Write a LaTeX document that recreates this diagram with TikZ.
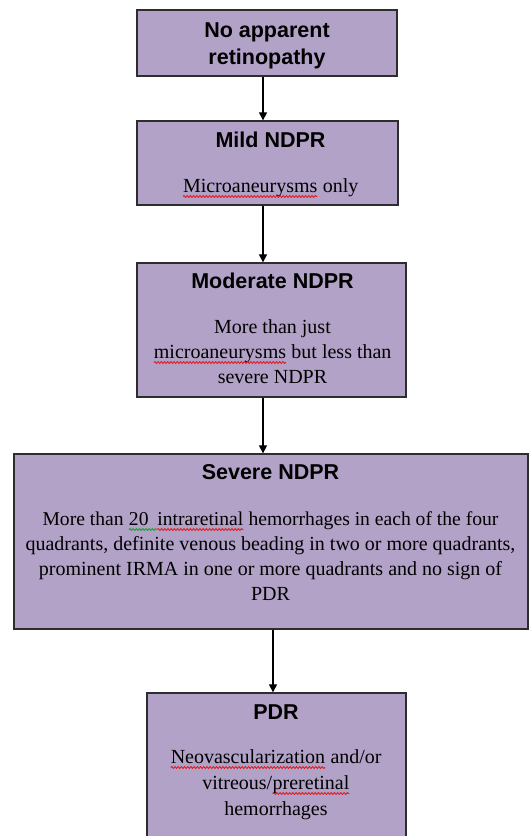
\documentclass[tikz,border=0pt]{standalone}
\usepackage{fontspec}
\setmainfont{Liberation Serif}
\newfontfamily\headfont{Liberation Sans}
\usetikzlibrary{arrows.meta,decorations.pathmorphing}

\definecolor{boxfill}{RGB}{178,162,199}
\definecolor{boxline}{RGB}{45,45,45}
\definecolor{spellred}{RGB}{230,20,20}
\definecolor{spellgreen}{RGB}{20,160,40}

% word with a wavy proofing underline
\newcommand\wavy[2]{\tikz[baseline=(w.base)]{%
  \node[inner sep=0pt,outer sep=0pt] (w) {#2};
  \draw[#1,line width=0.8pt,decorate,decoration={snake,amplitude=1pt,segment length=3.2pt}]
    ([yshift=-4.5pt]w.base west) -- ([yshift=-4.5pt]w.base east);}}

\tikzset{
  box/.style={draw=boxline,fill=boxfill,line width=1.3pt,rectangle,inner sep=0pt},
  head/.style={anchor=base,inner sep=0pt,font=\headfont\bfseries\fontsize{21.5}{25}\selectfont},
  body/.style={anchor=base,inner sep=0pt,font=\fontsize{20}{25}\selectfont},
  arr/.style={draw=black,line width=1.1pt,-{Triangle[width=8pt,length=8pt]}}
}

\begin{document}
\begin{tikzpicture}[x=1pt,y=1pt]
\useasboundingbox (0,0) rectangle (529,-836);
\clip (0,0) rectangle (529,-836);

% boxes
\node[box,minimum width=260pt,minimum height=66pt]  (b1) at (267,-43) {};
\node[box,minimum width=261pt,minimum height=84pt]  (b2) at (267.5,-163) {};
\node[box,minimum width=269pt,minimum height=134pt] (b3) at (271.5,-330) {};
\node[box,minimum width=514pt,minimum height=175pt] (b4) at (271,-541.5) {};
\node[box,minimum width=259pt,minimum height=167pt] (b5) at (276.5,-776.5) {};

% texts
\node[head] (t1a) at (267,-37) {No apparent};
\node[head] (t1b) at (267,-64) {retinopathy};

\node[head] (t2a) at (270.5,-147) {Mild NDPR};
\node[body] (t2b) at (270.5,-192) {\wavy{spellred}{Microaneurysms} only};

\node[head] (t3a) at (272.5,-288) {Moderate NDPR};
\node[body] (t3b) at (272.5,-333) {More than just};
\node[body] (t3c) at (272.5,-358) {\wavy{spellred}{microaneurysms} but less than};
\node[body] (t3d) at (272.5,-383) {severe NDPR};

\node[head] (t4a) at (270.5,-479) {Severe NDPR};
\node[body,font=\fontsize{19.6}{25}\selectfont] (t4b) at (270.5,-525) {More than \wavy{spellgreen}{20\kern8pt}\wavy{spellred}{intraretinal} hemorrhages in each of the four};
\node[body] (t4c) at (270.5,-550) {quadrants, definite venous beading in two or more quadrants,};
\node[body] (t4d) at (270.5,-575) {prominent IRMA in one or more quadrants and no sign of};
\node[body] (t4e) at (270.5,-600) {PDR};

\node[head] (t5a) at (276,-719) {PDR};
\node[body] (t5b) at (276,-763) {\wavy{spellred}{Neovascularization} and/or};
\node[body] (t5c) at (276,-789) {vitreous/\wavy{spellred}{preretinal}};
\node[body] (t5d) at (276,-815) {hemorrhages};

% connectors
\draw[arr] ([xshift=-4pt]b1.south) -- ([xshift=-4pt]b1.south |- b2.north);
\draw[arr] ([xshift=-4.5pt]b2.south) -- ([xshift=-4.5pt]b2.south |- b3.north);
\draw[arr] ([xshift=-8.5pt]b3.south) -- ([xshift=-8.5pt]b3.south |- b4.north);
\draw[arr] ([xshift=2pt]b4.south) -- ([xshift=2pt]b4.south |- b5.north);
\end{tikzpicture}
\end{document}
